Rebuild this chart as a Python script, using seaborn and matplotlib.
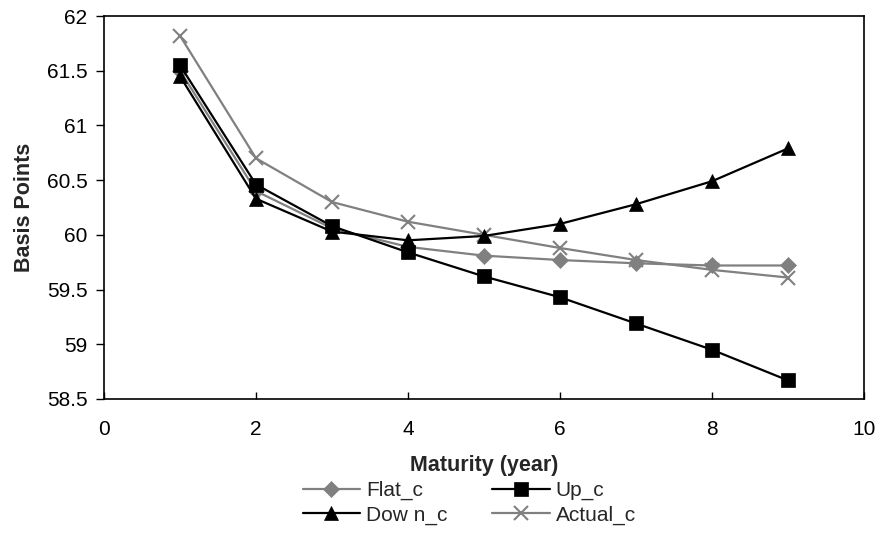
import matplotlib
matplotlib.use("Agg")
import matplotlib.pyplot as plt
import seaborn as sns
import pandas as pd

maturity = [1, 2, 3, 4, 5, 6, 7, 8, 9]
flat_c = [61.50, 60.40, 60.06, 59.89, 59.81, 59.77, 59.74, 59.72, 59.72]
up_c = [61.55, 60.46, 60.08, 59.84, 59.62, 59.43, 59.19, 58.95, 58.67]
down_c = [61.45, 60.33, 60.03, 59.95, 59.99, 60.10, 60.28, 60.49, 60.79]
actual_c = [61.82, 60.70, 60.30, 60.12, 60.00, 59.88, 59.77, 59.68, 59.61]
labels = ["Flat_c", "Up_c", "Dow n_c", "Actual_c"]
x_ticks = [0, 2, 4, 6, 8, 10]
y_ticks = [58.5, 59, 59.5, 60, 60.5, 61, 61.5, 62]

sns.set_theme(style="white")
plt.rcParams['font.family'] = ['Liberation Sans', 'DejaVu Sans']

fig = plt.figure(figsize=(8.82, 5.36), dpi=100)
ax = fig.add_axes([104/882, 1-399/536, 760/882, 383/536])

series = [
    (flat_c, "#808080", "D", 8, "#808080"),
    (up_c, "black", "s", 10, "black"),
    (down_c, "black", "^", 10.5, "black"),
    (actual_c, "#808080", "x", 10, "#808080"),
]
order = [3, 0, 1, 2]
handles = {}
for i in order:
    vals, col, mk, ms, mc = series[i]
    df = pd.DataFrame({"Maturity": maturity, "val": vals})
    sns.lineplot(data=df, x="Maturity", y="val", ax=ax, color=col, lw=1.6,
                 marker=mk, markersize=ms, markerfacecolor=mc, markeredgecolor=mc,
                 markeredgewidth=1.5 if mk == "x" else 0.5, label=labels[i],
                 legend=False)
    handles[i] = ax.lines[-1]

ax.set_xlim(0, 10)
ax.set_ylim(58.5, 62)
ax.set_xticks(x_ticks)
ax.set_xticklabels([str(t) for t in x_ticks])
ax.set_yticks(y_ticks)
ax.set_yticklabels([f"{t:g}" for t in y_ticks])
ax.tick_params(axis='x', direction='in', length=5, width=1, colors='black',
               labelsize=15, bottom=True, pad=15)
ax.tick_params(axis='y', direction='out', length=6, width=1, colors='black',
               labelsize=15, left=True, pad=6)
for s in ax.spines.values():
    s.set_color('black')
    s.set_linewidth(1.2)
ax.set_xlabel("Maturity (year)", fontsize=15.5, fontweight='bold', labelpad=12)
ax.set_ylabel("Basis Points", fontsize=15.5, fontweight='bold', labelpad=8)
ax.grid(False)

fig.legend([handles[0], handles[2], handles[1], handles[3]],
           [labels[0], labels[2], labels[1], labels[3]],
           loc='center', bbox_to_anchor=(0.532, 0.062), ncol=2, frameon=False,
           fontsize=15, handlelength=2.75, handletextpad=0.3, columnspacing=2.15,
           labelspacing=0.25)

fig.savefig("out.png", dpi=100)
